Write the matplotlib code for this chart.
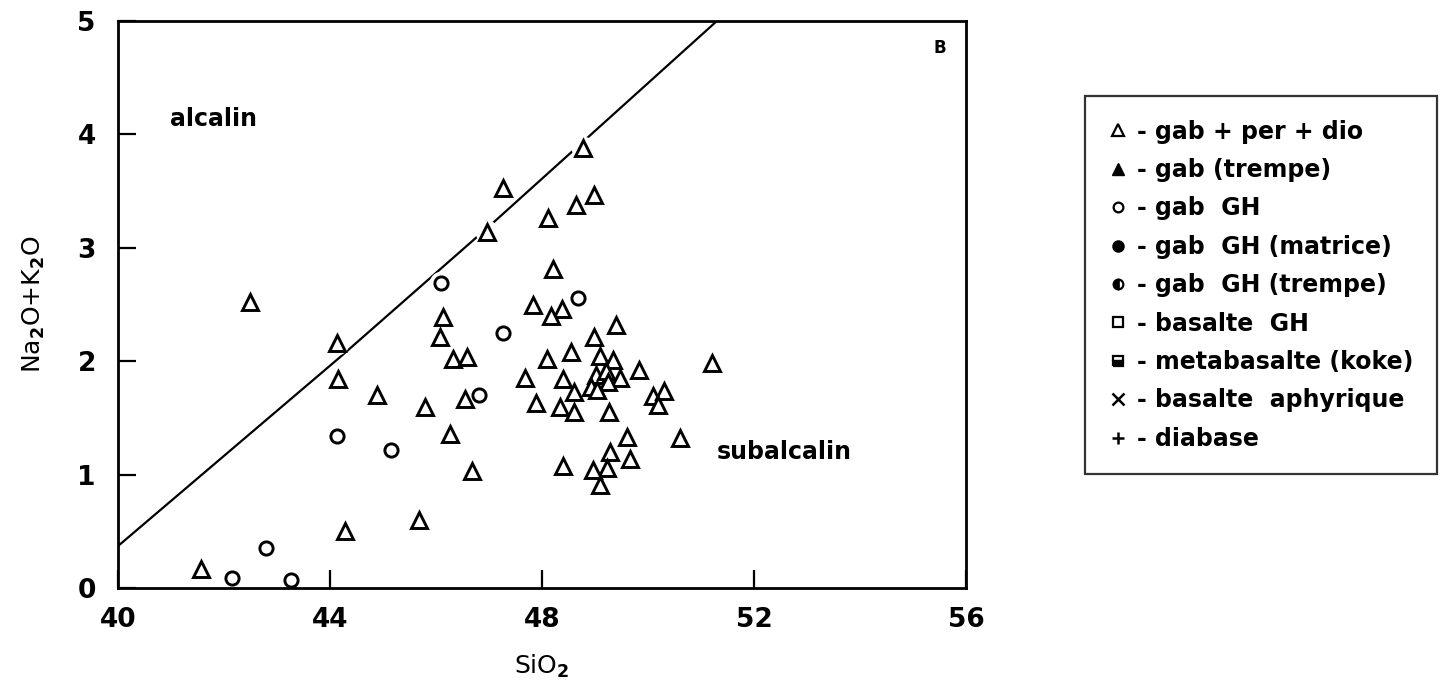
import numpy as np
import matplotlib
matplotlib.use('Agg')
import matplotlib.pyplot as plt
from matplotlib.lines import Line2D

plt.rcParams['font.family'] = ['DejaVu Sans']
plt.rcParams['font.weight'] = 'bold'
plt.rcParams['mathtext.fontset'] = 'custom'
plt.rcParams['mathtext.rm'] = 'DejaVu Sans:bold'
plt.rcParams['mathtext.it'] = 'DejaVu Sans:bold'
plt.rcParams['mathtext.default'] = 'rm'

# gab + per + dio (triangles vides)
tri_x = [48.78, 47.27, 48.98, 48.65, 48.12, 46.96, 48.21, 47.83, 48.37, 48.17,
         49.39, 48.99, 46.14, 46.08, 46.33, 46.58, 48.09, 48.55, 49.10, 49.34,
         49.83, 51.20, 47.68, 48.39, 49.02, 49.21, 49.47, 49.25, 48.92, 49.04,
         48.60, 46.55, 47.89, 48.34, 48.60, 49.27, 50.09, 50.30, 50.19, 49.60,
         50.60, 46.26, 49.28, 49.66, 46.67, 48.39, 49.22, 48.97, 49.10, 42.49,
         44.13, 44.16, 44.88, 45.79, 44.28, 45.67, 41.57]
tri_y = [3.88, 3.53, 3.47, 3.38, 3.26, 3.14, 2.81, 2.50, 2.46, 2.40,
         2.32, 2.21, 2.39, 2.21, 2.02, 2.04, 2.02, 2.08, 2.05, 2.01,
         1.92, 1.98, 1.85, 1.84, 1.88, 1.91, 1.85, 1.82, 1.77, 1.75,
         1.73, 1.67, 1.63, 1.60, 1.55, 1.55, 1.69, 1.74, 1.61, 1.33,
         1.32, 1.36, 1.20, 1.14, 1.03, 1.08, 1.06, 1.04, 0.91, 2.52,
         2.16, 1.84, 1.70, 1.60, 0.50, 0.60, 0.17]

# gab GH (cercles vides)
circ_x = [48.67, 47.27, 46.81, 46.09, 44.14, 45.16, 42.80, 42.16, 43.26]
circ_y = [2.56, 2.25, 1.70, 2.69, 1.34, 1.22, 0.35, 0.085, 0.07]

# limite alcalin / subalcalin
lim_x = [40.0, 44.2, 47.1, 48.5, 51.3]
lim_y = [0.37, 2.04, 3.23, 3.82, 5.0]

legend_labels = ['- gab + per + dio', '- gab (trempe)', '- gab  GH',
                 '- gab  GH (matrice)', '- gab  GH (trempe)', '- basalte  GH',
                 '- metabasalte (koke)', '- basalte  aphyrique', '- diabase']

fig = plt.figure(figsize=(14.46, 6.91), dpi=100)
ax = fig.add_axes([118/1446, 1-588/691, 848/1446, 567/691])

ax.plot(lim_x, lim_y, color='black', lw=1.6, zorder=1)

# halo blanc pour couper la ligne autour des symboles
ax.plot(tri_x + circ_x, tri_y + circ_y, ls='none', marker='o', ms=17,
        mfc='white', mec='none', zorder=2)

ax.plot(tri_x, tri_y, ls='none', marker='^', ms=11.5, mfc='white',
        mec='black', mew=2.1, zorder=3)
ax.plot(circ_x, circ_y, ls='none', marker='o', ms=9.5, mfc='white',
        mec='black', mew=2.1, zorder=3)

ax.set_xlim(40, 56)
ax.set_ylim(0, 5)
ax.set_xticks([40, 44, 48, 52, 56])
ax.set_yticks([0, 1, 2, 3, 4, 5])
ax.tick_params(direction='in', length=13, width=1.6, labelsize=19)
ax.tick_params(axis='x', pad=14)
ax.tick_params(axis='y', pad=16)
for s in ax.spines.values():
    s.set_linewidth(2)

ax.set_xlabel('SiO$_2$', fontsize=18, labelpad=14)
ax.set_ylabel('Na$_2$O+K$_2$O', fontsize=18, labelpad=22)

ax.text(40.98, 4.14, 'alcalin', fontsize=17, va='center')
ax.text(51.30, 1.20, 'subalcalin', fontsize=17, va='center')
ax.text(55.5, 4.76, 'B', fontsize=12, va='center', ha='center')

k = dict(ls='none', color='black', mec='black')
handles = [
    Line2D([], [], marker='^', ms=8, mfc='white', mew=1.6, **k),
    Line2D([], [], marker='^', ms=8, mfc='black', **k),
    Line2D([], [], marker='o', ms=7, mfc='white', mew=1.6, **k),
    Line2D([], [], marker='o', ms=8, mfc='black', **k),
    Line2D([], [], marker='o', ms=7, fillstyle='left', mew=1.6, **k),
    Line2D([], [], marker='s', ms=7.5, mfc='white', mew=1.6, **k),
    Line2D([], [], marker='s', ms=7.5, fillstyle='bottom', mew=1.6, **k),
    Line2D([], [], marker='x', ms=8, mew=1.8, **k),
    Line2D([], [], marker='+', ms=8, mew=1.8, **k),
]
leg = fig.legend(handles, legend_labels, loc='upper left',
                 bbox_to_anchor=(1085/1446, 1-96/691), fontsize=17,
                 frameon=True, fancybox=False, edgecolor='black',
                 handlelength=0.8, handletextpad=0.4, labelspacing=0.61,
                 borderpad=1.0, borderaxespad=0)
leg.get_frame().set_linewidth(1.6)

fig.savefig('out.png', dpi=100, facecolor='white')
